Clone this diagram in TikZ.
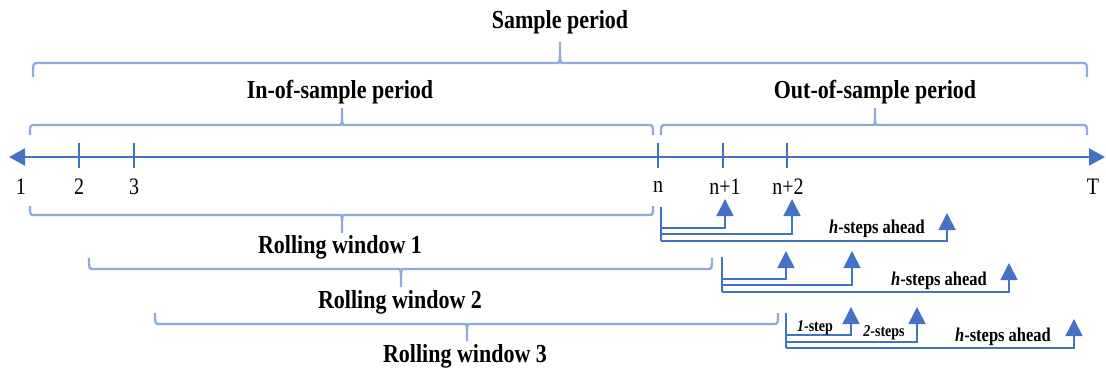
\documentclass[tikz,border=0pt]{standalone}
\usepackage{fontspec}
\usepackage{graphicx}
\setmainfont{Liberation Serif}
\usetikzlibrary{arrows.meta}

\definecolor{axisblue}{RGB}{68,114,196}
\definecolor{braceblue}{RGB}{143,170,220}

% narrow, tall lettering
\newcommand\tallt[1]{\scalebox{1}[1.18]{#1}}

% Brace: x-left, x-right, x-centre, y of the bar, y of the end hooks, y of the centre tip
\newcommand\DrawBrace[6]{%
  \draw[brk] (#1,#5) .. controls (#1,#4) .. ({#1+5},#4) -- ({#3-3},#4)
    .. controls (#3,#4) .. (#3,#6) .. controls (#3,#4) .. ({#3+3},#4)
    -- ({#2-5},#4) .. controls (#2,#4) .. (#2,#5);}

\begin{document}
\begin{tikzpicture}[x=1pt,y=-1pt,
  brk/.style={draw=braceblue,line width=2.3pt},
  axisline/.style={draw=axisblue,line width=2pt,
    {Triangle[width=17pt,length=16pt]}-{Triangle[width=17pt,length=16pt]}},
  tick/.style={draw=axisblue,line width=1.5pt},
  fc/.style={draw=axisblue,line width=1.6pt,-{Triangle[width=17pt,length=17pt]}},
  fcl/.style={draw=axisblue,line width=1.6pt},
  head/.style={inner sep=0pt,font=\fontsize{22}{26}\selectfont\bfseries},
  tlab/.style={inner sep=0pt,font=\fontsize{20}{24}\selectfont},
  hlab/.style={inner sep=0pt,font=\fontsize{16.5}{20}\selectfont\bfseries},
  slab/.style={inner sep=0pt,font=\fontsize{14}{17}\selectfont\bfseries}]
\useasboundingbox (0,0) rectangle (1106,372);

% time axis
\coordinate (axL) at (9,157);
\coordinate (axR) at (1105,157);
\draw[axisline] (axL) -- (axR);
\foreach \nm/\x in {t2/79,t3/134,tn/658,tn1/723,tn2/787}{
  \coordinate (\nm top) at (\x,143);
  \coordinate (\nm bot) at (\x,168);
  \draw[tick] (\nm top) -- (\nm bot);
}
\node[tlab] (l1) at (21,187) {\tallt{1}};
\node[tlab] (l2) at (79,187) {\tallt{2}};
\node[tlab] (l3) at (134,187) {\tallt{3}};
\node[tlab] (ln) at (658,187) {\tallt{n}};
\node[tlab] (ln1) at (725,187) {\tallt{n+1}};
\node[tlab] (ln2) at (788,187) {\tallt{n+2}};
\node[tlab] (lT) at (1093,187) {\tallt{T}};

% periods above the axis
\node[head] (samp) at (560,22) {\tallt{Sample period}};
\DrawBrace{33}{1087}{560}{63}{77}{42}
\node[head] (insamp) at (340,92) {\tallt{In-of-sample period}};
\DrawBrace{30}{653}{342}{125}{135}{108}
\node[head] (outsamp) at (875,92) {\tallt{Out-of-sample period}};
\DrawBrace{661}{1087}{875}{125}{135}{108}

% rolling windows below the axis
\DrawBrace{30}{653}{342}{215}{206}{233}
\node[head] (rw1) at (340,247) {\tallt{Rolling window 1}};
\DrawBrace{89}{712}{401}{269}{258}{287}
\node[head] (rw2) at (400,302) {\tallt{Rolling window 2}};
\DrawBrace{155}{778}{467}{324}{313}{341}
\node[head] (rw3) at (465,356) {\tallt{Rolling window 3}};

% forecasts from window 1
\coordinate (w1top) at (661,207);
\coordinate (w1bot) at (661,241);
\draw[fcl] (w1top) -- (w1bot);
\coordinate (w1s1) at (661,228); \coordinate (w1a1) at (725,199);
\coordinate (w1s2) at (661,234); \coordinate (w1a2) at (792,199);
\coordinate (w1s3) at (661,241); \coordinate (w1a3) at (947,213);
\draw[fc] (w1s1) -| (w1a1);
\draw[fc] (w1s2) -| (w1a2);
\draw[fc] (w1s3) -| (w1a3);
\node[hlab] (h1) at (877,229) {\tallt{\textit{h}-steps ahead}};

% forecasts from window 2
\coordinate (w2top) at (722,257);
\coordinate (w2bot) at (722,292);
\draw[fcl] (w2top) -- (w2bot);
\coordinate (w2s1) at (722,279); \coordinate (w2a1) at (786,251);
\coordinate (w2s2) at (722,285); \coordinate (w2a2) at (852,251);
\coordinate (w2s3) at (722,292); \coordinate (w2a3) at (1009,263);
\draw[fc] (w2s1) -| (w2a1);
\draw[fc] (w2s2) -| (w2a2);
\draw[fc] (w2s3) -| (w2a3);
\node[hlab] (h2) at (939,281) {\tallt{\textit{h}-steps ahead}};

% forecasts from window 3
\coordinate (w3top) at (786,313);
\coordinate (w3bot) at (786,348);
\draw[fcl] (w3top) -- (w3bot);
\coordinate (w3s1) at (786,335); \coordinate (w3a1) at (851,307);
\coordinate (w3s2) at (786,342); \coordinate (w3a2) at (917,307);
\coordinate (w3s3) at (786,348); \coordinate (w3a3) at (1074,319);
\draw[fc] (w3s1) -| (w3a1);
\draw[fc] (w3s2) -| (w3a2);
\draw[fc] (w3s3) -| (w3a3);
\node[slab] (s1) at (815,328) {\tallt{\textit{1}-step}};
\node[slab] (s2) at (884,333) {\tallt{\textit{2}-steps}};
\node[hlab] (h3) at (1003,337) {\tallt{\textit{h}-steps ahead}};
\end{tikzpicture}
\end{document}
